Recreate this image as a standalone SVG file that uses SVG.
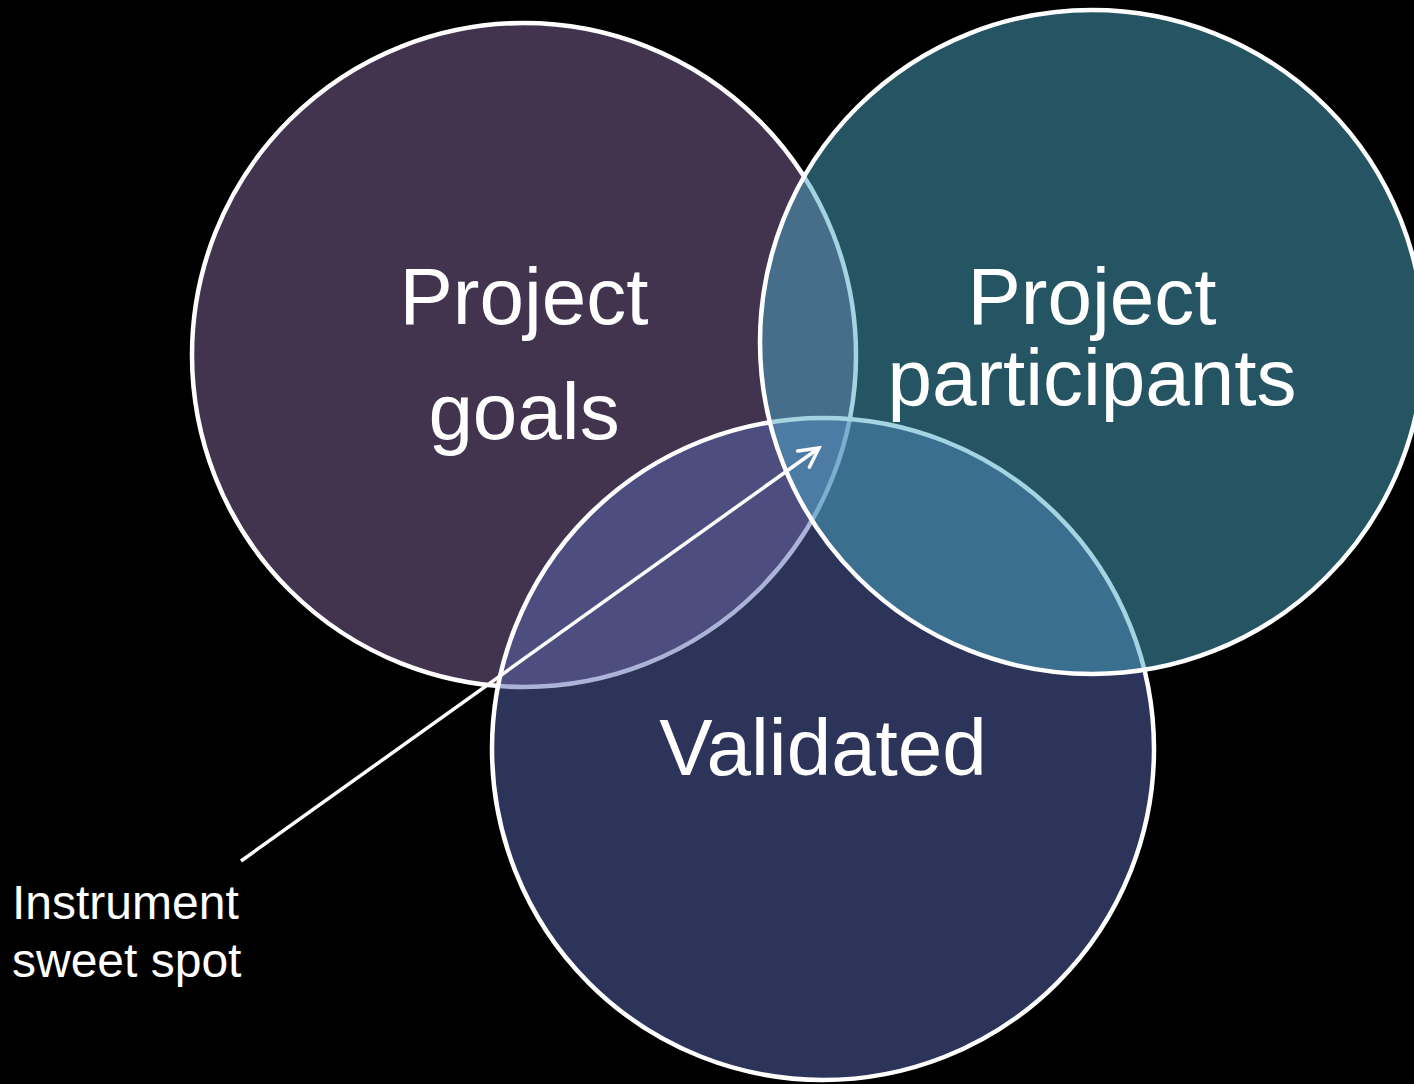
<svg xmlns="http://www.w3.org/2000/svg" width="1414" height="1084" viewBox="0 0 1414 1084">
<defs>
<style>
.circ{fill-opacity:0.5;stroke:#FFFFFF;stroke-width:4.5}
.big{font-family:"Liberation Sans",Arial,sans-serif;font-size:80px;fill:#FFFFFF;text-anchor:middle}
.small{font-family:"Liberation Sans",Arial,sans-serif;font-size:48px;fill:#FFFFFF}
.conn{stroke:#FFFFFF;stroke-width:3.5;fill:none}
</style>
<marker id="arrow" markerUnits="userSpaceOnUse" markerWidth="30" markerHeight="30" viewBox="-25 -15 30 30" refX="0" refY="0" orient="auto">
<path d="M-19,-10 L0,0 L-19,10" fill="none" stroke="#FFFFFF" stroke-width="3.5" stroke-linecap="round" stroke-linejoin="miter"/>
</marker>
</defs>
<rect x="0" y="0" width="1414" height="1084" fill="#000000"/>
<g id="node-goals">
<circle class="circ" cx="524" cy="355" r="332" fill="#84669E"/>
</g>
<g id="node-validated">
<circle class="circ" cx="823" cy="749" r="331" fill="#5A68B2"/>
</g>
<g id="node-participants">
<circle class="circ" cx="1092" cy="342" r="332" fill="#4AAAC6"/>
</g>
<g id="labels">
<text class="big" x="524" y="324">Project</text>
<text class="big" x="524" y="439">goals</text>
<text class="big" x="1092" y="324">Project</text>
<text class="big" x="1092" y="405">participants</text>
<text class="big" x="823" y="775">Validated</text>
</g>
<g id="node-sweetspot">
<text class="small" x="12" y="919">Instrument</text>
<text class="small" x="12" y="977">sweet spot</text>
</g>
<g id="connectors">
<line class="conn" x1="241" y1="861" x2="819" y2="448" marker-end="url(#arrow)"/>
</g>
</svg>
